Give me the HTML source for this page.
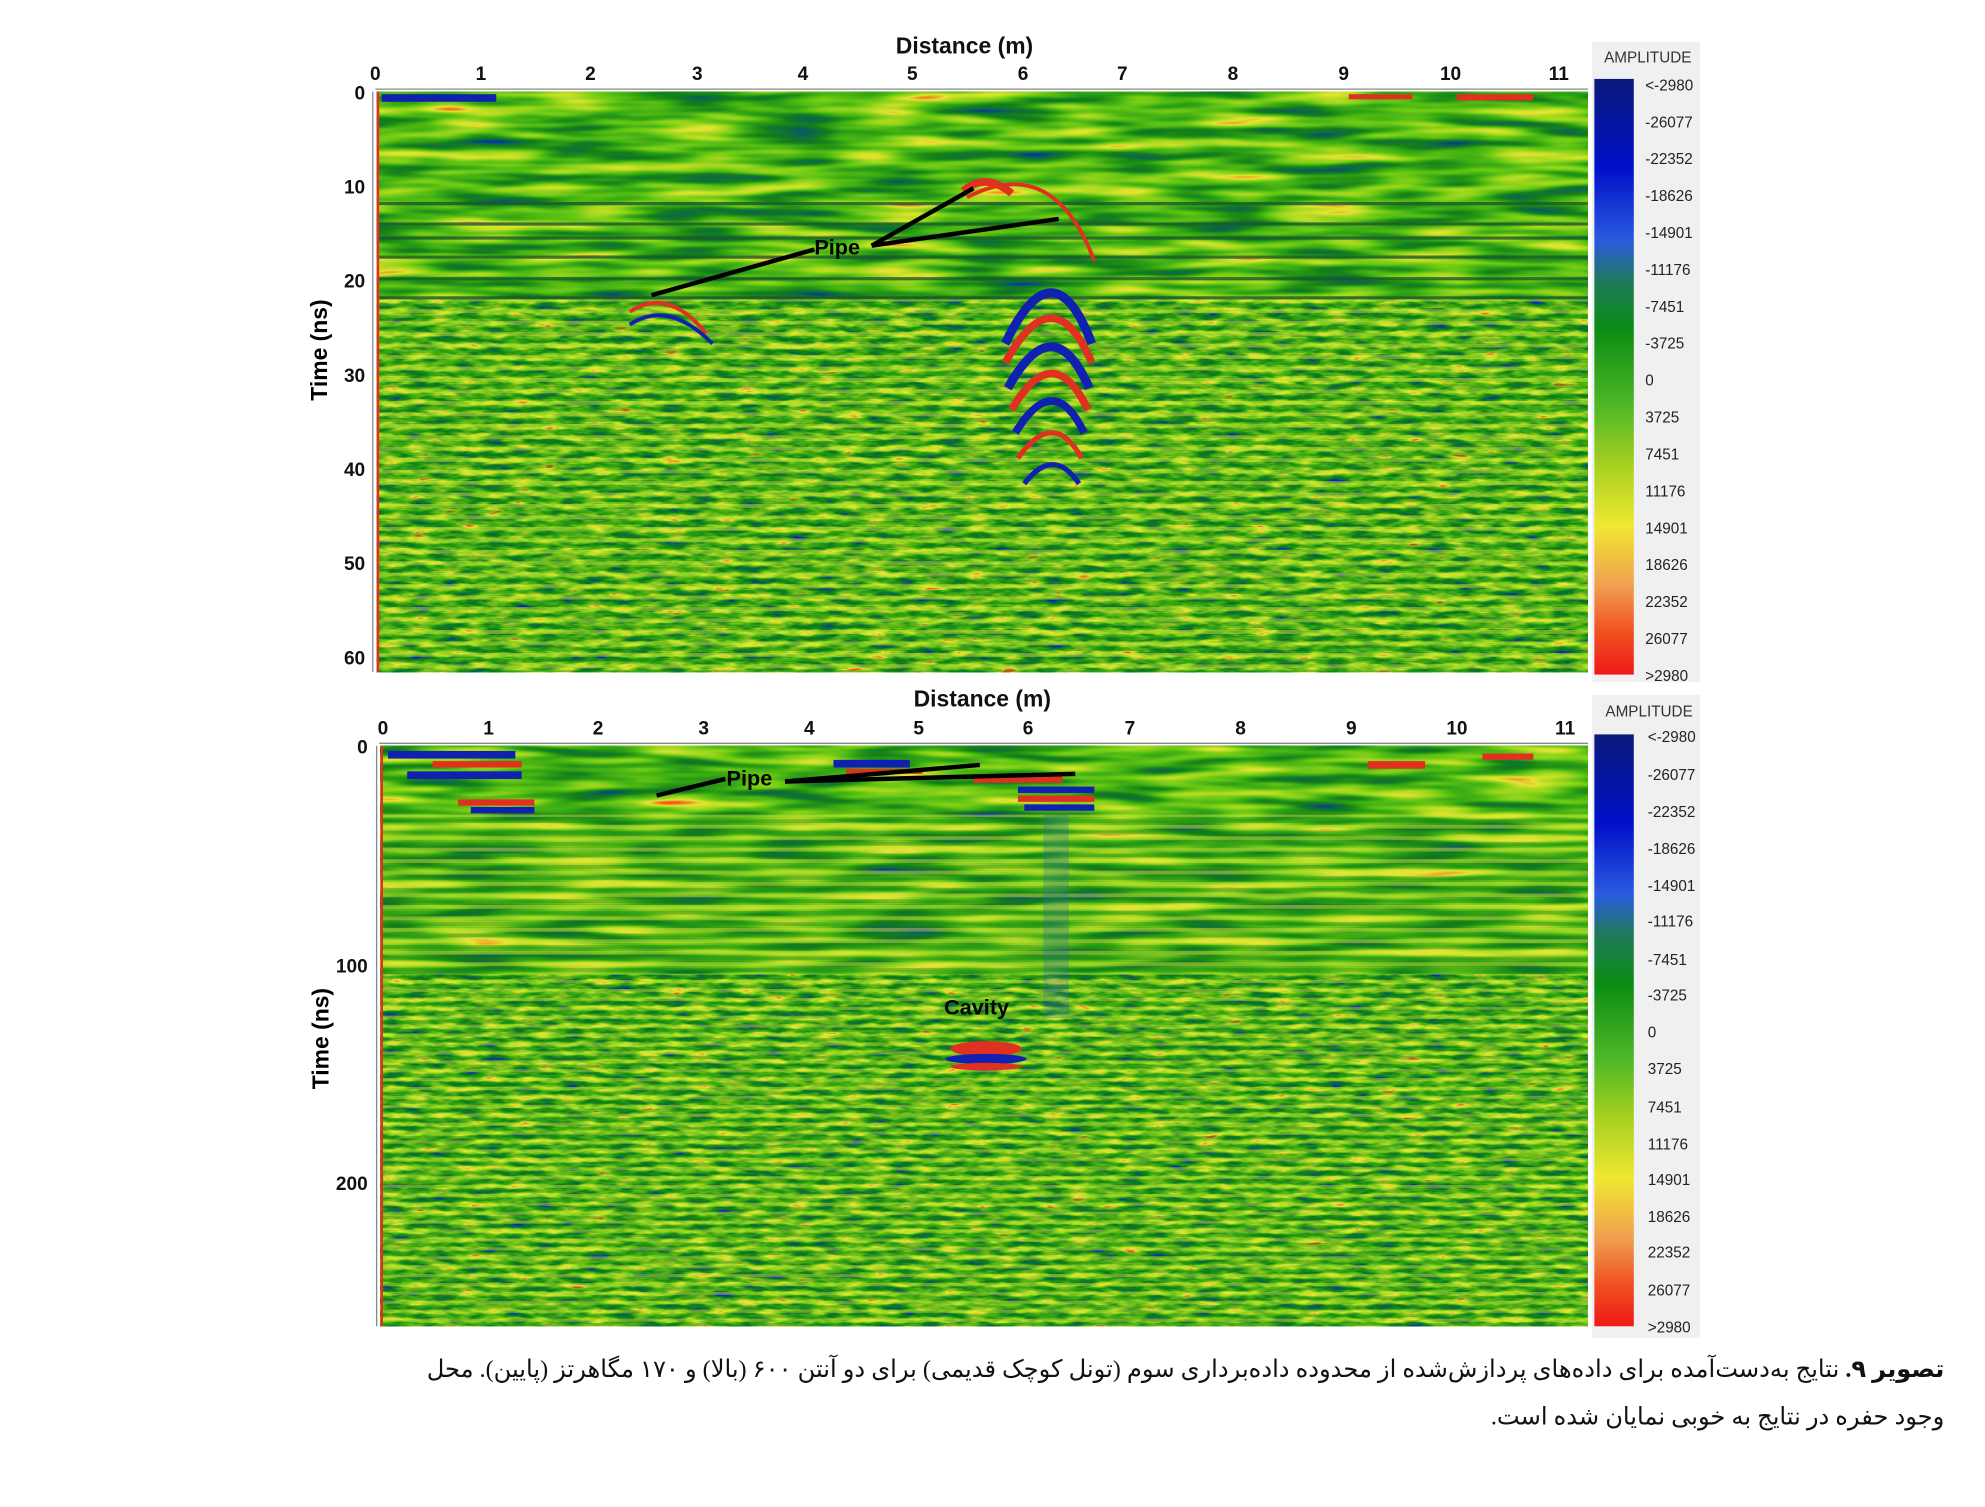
<!DOCTYPE html>
<html><head><meta charset="utf-8"><style>
html,body{margin:0;padding:0;background:#fff;width:1985px;height:1507px;overflow:hidden}
svg{display:block}
</style></head><body>
<svg width="1985" height="1507" viewBox="0 0 1560 1184" preserveAspectRatio="none" xmlns="http://www.w3.org/2000/svg">
<defs>
<filter id="gprA" x="0" y="0" width="1" height="1" color-interpolation-filters="sRGB">
<feTurbulence type="fractalNoise" baseFrequency="0.012 0.11" numOctaves="2" seed="3"/>
<feColorMatrix type="matrix" values="1.3 0 0 0 -0.15  1.3 0 0 0 -0.15  1.3 0 0 0 -0.15  0 0 0 0 1"/>
<feComponentTransfer>
<feFuncR type="table" tableValues="0 0.05 0.08 0.2 0.4 0.65 0.9 0.95"/>
<feFuncG type="table" tableValues="0.15 0.4 0.5 0.65 0.78 0.85 0.9 0.35"/>
<feFuncB type="table" tableValues="0.75 0.3 0.1 0.08 0.08 0.12 0.2 0.1"/>
</feComponentTransfer>
</filter>
<filter id="gprB" x="0" y="0" width="1" height="1" color-interpolation-filters="sRGB">
<feTurbulence type="fractalNoise" baseFrequency="0.05 0.2" numOctaves="3" seed="7"/>
<feColorMatrix type="matrix" values="1.4 0 0 0 -0.2  1.4 0 0 0 -0.2  1.4 0 0 0 -0.2  0 0 0 0 1"/>
<feComponentTransfer>
<feFuncR type="table" tableValues="0 0.05 0.08 0.2 0.4 0.65 0.9 0.95"/>
<feFuncG type="table" tableValues="0.15 0.4 0.5 0.65 0.78 0.85 0.9 0.35"/>
<feFuncB type="table" tableValues="0.75 0.3 0.1 0.08 0.08 0.12 0.2 0.1"/>
</feComponentTransfer>
</filter>
<pattern id="str" width="10" height="9" patternUnits="userSpaceOnUse">
<rect width="10" height="3" y="0" fill="#e8e840" opacity="0.45"/>
<rect width="10" height="3" y="4.5" fill="#0a7a1a" opacity="0.4"/>
</pattern>
<pattern id="str2" width="10" height="7" patternUnits="userSpaceOnUse">
<rect width="10" height="2.5" y="0" fill="#e8e840" opacity="0.4"/>
<rect width="10" height="2.5" y="3.5" fill="#0a7a1a" opacity="0.4"/>
</pattern>
<linearGradient id="cb" x1="0" y1="0" x2="0" y2="1">
<stop offset="0" stop-color="#0a1a7a"/>
<stop offset="0.15" stop-color="#0010c8"/>
<stop offset="0.27" stop-color="#2a5ae0"/>
<stop offset="0.34" stop-color="#1e7a5a"/>
<stop offset="0.42" stop-color="#0a8c14"/>
<stop offset="0.55" stop-color="#4fb826"/>
<stop offset="0.65" stop-color="#a8d020"/>
<stop offset="0.75" stop-color="#f0e830"/>
<stop offset="0.85" stop-color="#f0a050"/>
<stop offset="0.93" stop-color="#f05020"/>
<stop offset="1" stop-color="#f01818"/>
</linearGradient>
</defs>

<!-- TOP PANEL -->
<rect x="296" y="72" width="952" height="163" fill="#6c6" filter="url(#gprA)"/>
<rect x="296" y="235" width="952" height="293" fill="#6c6" filter="url(#gprB)"/>
<rect x="296" y="235" width="952" height="293" fill="url(#str)"/>
<g stroke="#1a5a2a" stroke-width="2.5" opacity="0.8">
<line x1="296" y1="160" x2="1248" y2="160"/><line x1="296" y1="176" x2="1248" y2="176"/>
<line x1="296" y1="187" x2="1248" y2="187"/><line x1="296" y1="202" x2="1248" y2="202"/>
<line x1="296" y1="219" x2="1248" y2="219"/><line x1="296" y1="234" x2="1248" y2="234"/>
</g>
<g fill="none" stroke-width="5">
<path d="M760 155 Q 828 120 860 205" stroke="#e03020" stroke-width="3"/>
<path d="M790 270 Q 828 190 858 270" stroke="#1020b0" stroke-width="7"/>
<path d="M790 285 Q 828 215 858 285" stroke="#e03020" stroke-width="6"/>
<path d="M792 305 Q 828 240 856 305" stroke="#1020b0" stroke-width="7"/>
<path d="M795 322 Q 828 265 855 322" stroke="#e03020" stroke-width="6"/>
<path d="M798 340 Q 828 290 852 340" stroke="#1020b0" stroke-width="6"/>
<path d="M800 360 Q 828 320 850 360" stroke="#e03020" stroke-width="4"/>
<path d="M805 380 Q 828 350 848 380" stroke="#1020b0" stroke-width="4"/>
<path d="M757 150 Q 775 135 795 152" stroke="#e03020" stroke-width="6"/>
<path d="M495 245 Q 525 225 555 262" stroke="#e03020" stroke-width="3"/>
<path d="M495 255 Q 525 235 560 270" stroke="#1020b0" stroke-width="3"/>
</g>
<rect x="300" y="74" width="90" height="6" fill="#1020b0"/>
<rect x="1145" y="74" width="60" height="5" fill="#e03020"/>
<rect x="1060" y="74" width="50" height="4" fill="#e03020"/>
<line x1="297" y1="72" x2="297" y2="528" stroke="#e03020" stroke-width="2"/>
<g stroke="#000" stroke-width="3.5" fill="none">
<line x1="512" y1="232" x2="640" y2="196"/>
<line x1="685" y1="193" x2="765" y2="148"/>
<line x1="685" y1="193" x2="832" y2="172"/>
</g>
<text x="640" y="200" font-family="Liberation Sans" font-weight="bold" font-size="17">Pipe</text>
<!-- top axes -->
<line x1="295" y1="70" x2="1248" y2="70" stroke="#888" stroke-width="1"/>
<line x1="293" y1="72" x2="293" y2="528" stroke="#888" stroke-width="1"/>
<g font-family="Liberation Sans" font-weight="bold" font-size="15" text-anchor="middle" fill="#111">
<text x="758" y="42" font-size="18">Distance (m)</text>
<text x="295" y="63">0</text><text x="378" y="63">1</text><text x="464" y="63">2</text><text x="548" y="63">3</text>
<text x="631" y="63">4</text><text x="717" y="63">5</text><text x="804" y="63">6</text><text x="882" y="63">7</text>
<text x="969" y="63">8</text><text x="1056" y="63">9</text><text x="1140" y="63">10</text><text x="1225" y="63">11</text>
</g>
<g font-family="Liberation Sans" font-weight="bold" font-size="15" text-anchor="end" fill="#111">
<text x="287" y="78">0</text><text x="287" y="152">10</text><text x="287" y="226">20</text><text x="287" y="300">30</text>
<text x="287" y="374">40</text><text x="287" y="448">50</text><text x="287" y="522">60</text>
</g>
<text transform="translate(257 275) rotate(-90)" font-family="Liberation Sans" font-weight="bold" font-size="18" text-anchor="middle">Time (ns)</text>
<!-- top colorbar -->
<rect x="1251" y="33" width="85" height="503" fill="#f0f0f0"/>
<text x="1295" y="49" font-family="Liberation Sans" font-size="12" text-anchor="middle" fill="#333">AMPLITUDE</text>
<rect x="1253" y="62" width="31" height="468" fill="url(#cb)"/>
<g font-family="Liberation Sans" font-size="12" fill="#222">
<text x="1293" y="71">&lt;-2980</text><text x="1293" y="100">-26077</text><text x="1293" y="129">-22352</text>
<text x="1293" y="158">-18626</text><text x="1293" y="187">-14901</text><text x="1293" y="216">-11176</text>
<text x="1293" y="245">-7451</text><text x="1293" y="274">-3725</text><text x="1293" y="303">0</text>
<text x="1293" y="332">3725</text><text x="1293" y="361">7451</text><text x="1293" y="390">11176</text>
<text x="1293" y="419">14901</text><text x="1293" y="448">18626</text><text x="1293" y="477">22352</text>
<text x="1293" y="506">26077</text><text x="1293" y="535">&gt;2980</text>
</g>

<!-- BOTTOM PANEL -->
<rect x="299" y="586" width="949" height="180" fill="#6c6" filter="url(#gprA)"/>
<rect x="299" y="640" width="949" height="126" fill="url(#str)"/>
<rect x="299" y="766" width="949" height="276" fill="#6c6" filter="url(#gprB)"/>
<rect x="299" y="766" width="949" height="276" fill="url(#str2)"/>
<g>
<rect x="305" y="590" width="100" height="6" fill="#1020b0"/>
<rect x="340" y="598" width="70" height="5" fill="#e03020"/>
<rect x="320" y="606" width="90" height="6" fill="#1020b0"/>
<rect x="360" y="628" width="60" height="5" fill="#e03020"/>
<rect x="370" y="634" width="50" height="5" fill="#1020b0"/>
<rect x="655" y="597" width="60" height="6" fill="#1020b0"/>
<rect x="665" y="604" width="60" height="4" fill="#e03020"/>
<rect x="765" y="610" width="70" height="5" fill="#e03020"/>
<rect x="800" y="618" width="60" height="5" fill="#1020b0"/>
<rect x="800" y="625" width="60" height="5" fill="#e03020"/>
<rect x="805" y="632" width="55" height="5" fill="#1020b0"/>
<rect x="1075" y="598" width="45" height="6" fill="#e03020"/>
<rect x="1165" y="592" width="40" height="5" fill="#e03020"/>
<rect x="820" y="640" width="20" height="160" fill="#2a6a9a" opacity="0.3"/>
<ellipse cx="775" cy="824" rx="28" ry="6" fill="#e03020"/>
<ellipse cx="775" cy="832" rx="32" ry="4" fill="#1020b0"/>
<ellipse cx="775" cy="838" rx="28" ry="3" fill="#e03020"/>
</g>
<line x1="300" y1="586" x2="300" y2="1042" stroke="#e03020" stroke-width="2"/>
<g stroke="#000" stroke-width="3.5" fill="none">
<line x1="516" y1="625" x2="570" y2="612"/>
<line x1="617" y1="614" x2="770" y2="601"/>
<line x1="617" y1="614" x2="845" y2="608"/>
</g>
<text x="571" y="617" font-family="Liberation Sans" font-weight="bold" font-size="17">Pipe</text>
<text x="742" y="797" font-family="Liberation Sans" font-weight="bold" font-size="17">Cavity</text>
<line x1="298" y1="584" x2="1248" y2="584" stroke="#888" stroke-width="1"/>
<line x1="296" y1="586" x2="296" y2="1042" stroke="#888" stroke-width="1"/>
<g font-family="Liberation Sans" font-weight="bold" font-size="15" text-anchor="middle" fill="#111">
<text x="772" y="555" font-size="18">Distance (m)</text>
<text x="301" y="577">0</text><text x="384" y="577">1</text><text x="470" y="577">2</text><text x="553" y="577">3</text>
<text x="636" y="577">4</text><text x="722" y="577">5</text><text x="808" y="577">6</text><text x="888" y="577">7</text>
<text x="975" y="577">8</text><text x="1062" y="577">9</text><text x="1145" y="577">10</text><text x="1230" y="577">11</text>
</g>
<g font-family="Liberation Sans" font-weight="bold" font-size="15" text-anchor="end" fill="#111">
<text x="289" y="592">0</text><text x="289" y="764">100</text><text x="289" y="935">200</text>
</g>
<text transform="translate(258 816) rotate(-90)" font-family="Liberation Sans" font-weight="bold" font-size="18" text-anchor="middle">Time (ns)</text>
<rect x="1251" y="546" width="85" height="505" fill="#f0f0f0"/>
<text x="1296" y="563" font-family="Liberation Sans" font-size="12" text-anchor="middle" fill="#333">AMPLITUDE</text>
<rect x="1253" y="577" width="31" height="465" fill="url(#cb)"/>
<g font-family="Liberation Sans" font-size="12" fill="#222">
<text x="1295" y="583">&lt;-2980</text><text x="1295" y="613">-26077</text><text x="1295" y="642">-22352</text>
<text x="1295" y="671">-18626</text><text x="1295" y="700">-14901</text><text x="1295" y="728">-11176</text>
<text x="1295" y="758">-7451</text><text x="1295" y="786">-3725</text><text x="1295" y="815">0</text>
<text x="1295" y="844">3725</text><text x="1295" y="874">7451</text><text x="1295" y="903">11176</text>
<text x="1295" y="931">14901</text><text x="1295" y="960">18626</text><text x="1295" y="988">22352</text>
<text x="1295" y="1018">26077</text><text x="1295" y="1047">&gt;2980</text>
</g>

<!-- caption -->
<g font-family="Liberation Serif, 'DejaVu Sans', sans-serif" font-size="19" fill="#111">
<text x="1528" y="1082" direction="rtl" text-anchor="start"><tspan font-weight="bold">تصویر ۹.</tspan> نتایج به‌دست‌آمده برای داده‌های پردازش‌شده از محدوده داده‌برداری سوم (تونل کوچک قدیمی) برای دو آنتن ۶۰۰ (بالا) و ۱۷۰ مگاهرتز (پایین). محل</text>
<text x="1528" y="1119" direction="rtl" text-anchor="start">وجود حفره در نتایج به خوبی نمایان شده است.</text>
</g>
</svg>
</body></html>
